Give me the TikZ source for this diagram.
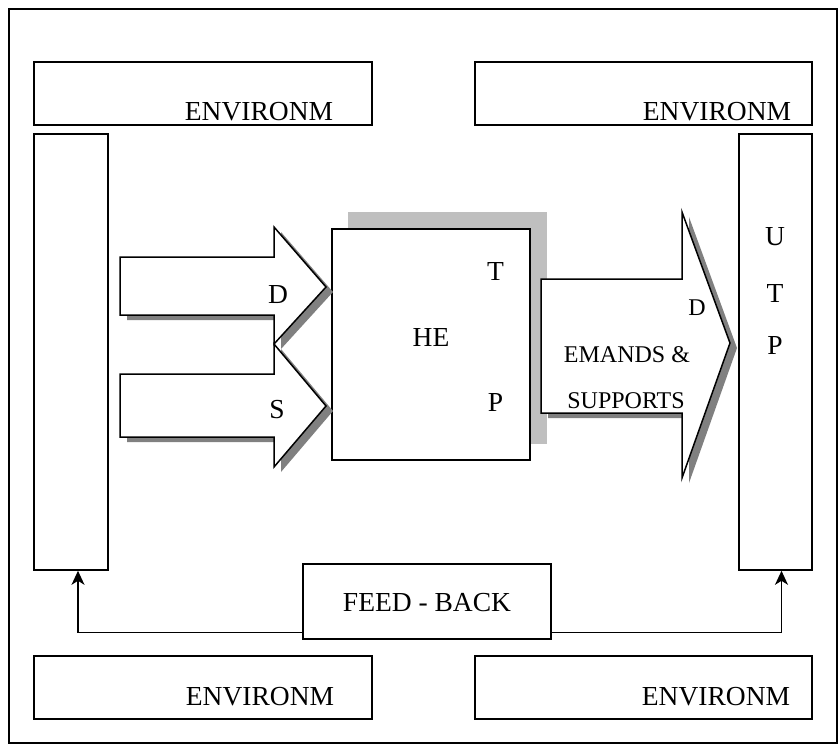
\documentclass[tikz,border=0pt]{standalone}
\usepackage{fontspec}
\setmainfont{Liberation Serif}
\usetikzlibrary{arrows.meta}
\begin{document}
\begin{tikzpicture}[x=1pt,y=-1pt,
  box/.style={draw=black,line width=1.6pt,fill=white,inner sep=0pt},
  lbl/.style={inner sep=0pt,font=\fontsize{27.5}{30}\selectfont},
  slbl/.style={inner sep=0pt,font=\fontsize{24}{27}\selectfont},
  bigarrow/.style={draw=black,line width=1.5pt,fill=white,line join=miter},
  arrowshadow/.style={fill=black!50,draw=none},
  hshadow/.style={fill=black!25,draw=none},
  fbarrow/.style={draw=black,line width=1.4pt,-{Stealth[length=14pt,width=13pt,inset=4pt]}}]
\useasboundingbox (0,0) rectangle (839,745);
% outer frame
\draw[line width=1.6pt] (9,9) rectangle (837,743);
% environment boxes
\node[box,minimum width=338pt,minimum height=63pt] (env1) at (203,93.5) {};
\node[box,minimum width=337pt,minimum height=63pt] (env2) at (643.5,93.5) {};
\node[box,minimum width=338pt,minimum height=63pt] (env3) at (203,687.5) {};
\node[box,minimum width=337pt,minimum height=63pt] (env4) at (643.5,687.5) {};
\node[lbl] (t1) at (259,112) {ENVIRONM};
\node[lbl] (t2) at (717,112) {ENVIRONM};
\node[lbl] (t3) at (260,696.5) {ENVIRONM};
\node[lbl] (t4) at (716,696.5) {ENVIRONM};
% tall side boxes
\node[box,minimum width=74pt,minimum height=436pt] (ltall) at (71,352) {};
\node[box,minimum width=73pt,minimum height=436pt] (rtall) at (775.5,352) {};
\node[lbl] (u) at (775,237) {U};
\node[lbl] (tt) at (775,293) {T};
\node[lbl] (pp) at (775,345) {P};
% feedback box
\node[box,minimum width=248pt,minimum height=75pt] (fb) at (427,601.5) {};
\node[lbl] (fbt) at (427,603) {FEED - BACK};
\draw[fbarrow] ([yshift=-31pt]fb.west) -| ([xshift=7pt]ltall.south);
\draw[fbarrow] ([yshift=-31pt]fb.east) -| ([xshift=6pt]rtall.south);
% central box with shadow
\fill[hshadow] (348,212) rectangle (547,444);
\node[box,minimum width=198pt,minimum height=231pt] (he) at (431,344.5) {};
\node[lbl] (het) at (431,337.5) {HE};
\node[lbl] (het2) at (495.5,271) {T};
\node[lbl] (hep) at (495.5,402.5) {P};
% right big arrow
\fill[arrowshadow,shift={(7,5)}] (541,279) -- (682,279) -- (682,212) -- (730,343) -- (682,478) -- (682,413) -- (541,413) -- cycle;
\path[bigarrow] (541,279) -- (682,279) -- (682,212) -- (730,343) -- (682,478) -- (682,413) -- (541,413) -- cycle;
\node[slbl] (rd) at (697,308) {D};
\node[slbl] (rem) at (627,355) {EMANDS \&};
\node[slbl] (rsu) at (626,400.5) {SUPPORTS};
% left arrow D
\fill[arrowshadow,shift={(7,5)}] (120,257) -- (274,257) -- (274,227) -- (326,287) -- (274,344) -- (274,315) -- (120,315) -- cycle;
\path[bigarrow] (120,257) -- (274,257) -- (274,227) -- (326,287) -- (274,344) -- (274,315) -- (120,315) -- cycle;
% left arrow S
\fill[arrowshadow,shift={(7,5)}] (120,374) -- (274,374) -- (274,344) -- (326,406) -- (274,467) -- (274,437) -- (120,437) -- cycle;
\path[bigarrow] (120,374) -- (274,374) -- (274,344) -- (326,406) -- (274,467) -- (274,437) -- (120,437) -- cycle;
\node[lbl] (ld) at (278,294.5) {D};
\node[lbl] (ls) at (277,410) {S};
\end{tikzpicture}
\end{document}
